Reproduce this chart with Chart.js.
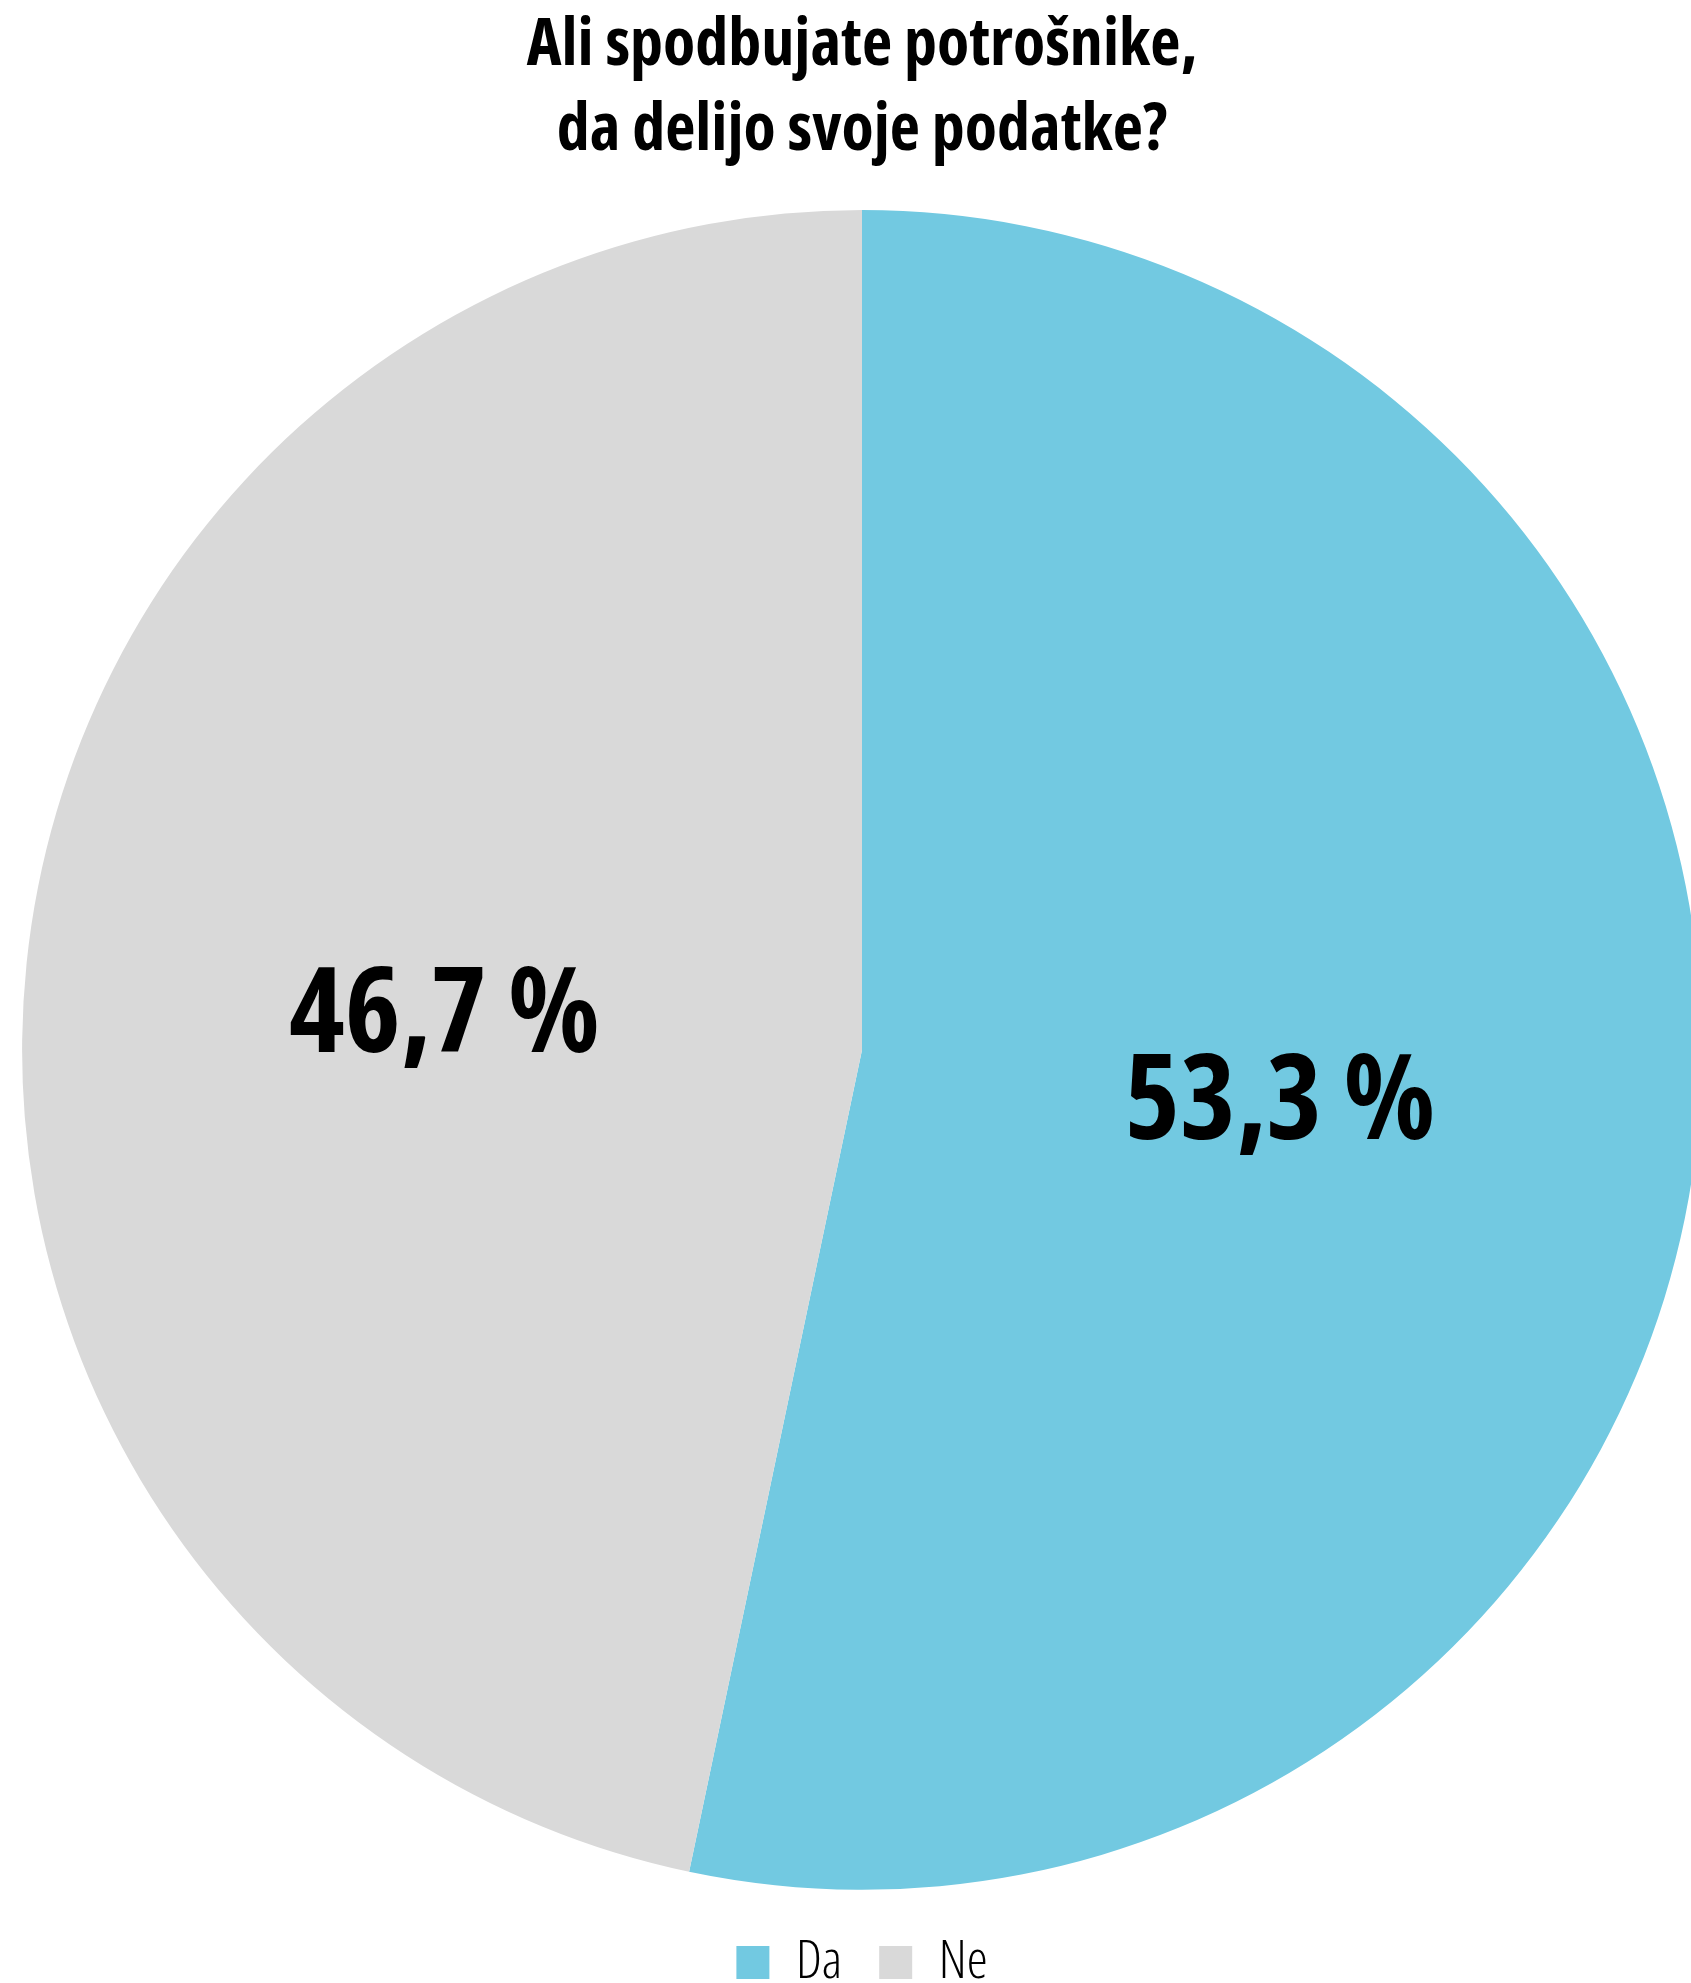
<!DOCTYPE html>
<html>
<head>
<meta charset="utf-8">
<script src="https://cdn.jsdelivr.net/npm/chart.js@4/dist/chart.umd.min.js"></script>
<style>
  html, body { margin: 0; padding: 0; background: #fff; overflow: hidden; }
  #wrap { width: 1724px; height: 1983px; }
</style>
</head>
<body>
<div id="wrap"><canvas id="pie" width="1724" height="1983"></canvas></div>
<script>
const titleLines = ['Ali spodbujate potrošnike,', 'da delijo svoje podatke?'];
const answers = ['Da', 'Ne'];
const shares = [53.3, 46.7];
const sliceColors = ['#72c9e1', '#d9d9d9'];

const FAMILY = "'Open Sans', 'Liberation Sans Narrow', 'DejaVu Sans Condensed', sans-serif";

// percentage labels in the middle of each slice
const sliceLabels = {
    id: 'sliceLabels',
    afterDatasetsDraw(chart) {
        const { ctx } = chart;
        const meta = chart.getDatasetMeta(0);
        ctx.save();
        ctx.font = "700 condensed 119px " + FAMILY;
        ctx.fillStyle = '#000';
        ctx.textAlign = 'center';
        ctx.textBaseline = 'middle';
        meta.data.forEach((arc, i) => {
            const p = arc.getCenterPoint();
            ctx.fillText(shares[i].toFixed(1).replace('.', ',') + ' %', p.x, p.y + 12);
        });
        ctx.restore();
    },
};

new Chart(document.getElementById('pie'), {
    type: 'pie',
    data: {
        labels: answers,
        datasets: [{ data: shares, backgroundColor: sliceColors, borderWidth: 0 }],
    },
    options: {
        responsive: false,
        animation: false,
        devicePixelRatio: 1,
        layout: { padding: { bottom: -16 } },
        plugins: {
            title: {
                display: true,
                text: titleLines,
                color: '#000',
                font: { family: FAMILY, size: 66, weight: '700 condensed', lineHeight: 85 / 66 },
                padding: { top: 4, bottom: 36 },
            },
            legend: {
                position: 'bottom',
                // empty title only pushes the items down a little
                title: { display: true, text: ' ', font: { size: 1 }, padding: { top: 0, bottom: 8 } },
                labels: {
                    color: '#000',
                    boxWidth: 33,
                    boxHeight: 33,
                    padding: 37,
                    font: { family: FAMILY, size: 53, weight: '300 condensed' },
                },
            },
            tooltip: { enabled: false },
        },
    },
    plugins: [sliceLabels],
});
</script>
</body>
</html>
